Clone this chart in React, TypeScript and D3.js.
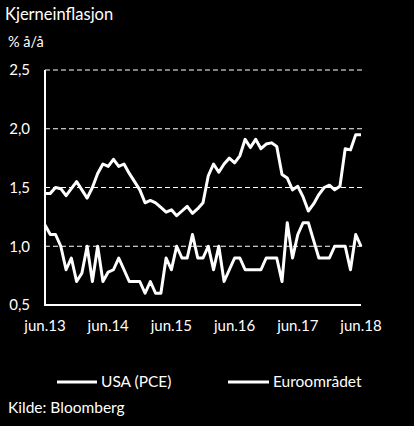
import React from "react";
import * as d3 from "d3";

const tickLabels = ["jun.13", "jun.14", "jun.15", "jun.16", "jun.17", "jun.18"];
const tickIndex = [0, 12, 24, 36, 48, 60];
const yTicks = [0.5, 1.0, 1.5, 2.0, 2.5];

const usaPCE = [
  1.45, 1.45, 1.5, 1.49, 1.43, 1.49, 1.55, 1.48, 1.41, 1.5,
  1.62, 1.7, 1.68, 1.74, 1.68, 1.7, 1.62, 1.55, 1.48, 1.37,
  1.39, 1.37, 1.33, 1.29, 1.31, 1.26, 1.3, 1.34, 1.28, 1.32,
  1.37, 1.6, 1.7, 1.63, 1.7, 1.75, 1.71, 1.77, 1.91, 1.84,
  1.91, 1.83, 1.87, 1.88, 1.85, 1.61, 1.58, 1.48, 1.51, 1.42,
  1.3, 1.36, 1.44, 1.5, 1.52, 1.48, 1.51, 1.83, 1.82, 1.95, 1.95,
];

const euro = [
  1.18, 1.1, 1.1, 1.0, 0.8, 0.9, 0.7, 0.77, 1.0, 0.7,
  1.0, 0.7, 0.78, 0.8, 0.9, 0.8, 0.7, 0.7, 0.7, 0.6,
  0.7, 0.6, 0.6, 0.9, 0.8, 1.0, 0.9, 0.9, 1.1, 0.9,
  0.9, 1.0, 0.8, 1.0, 0.7, 0.8, 0.9, 0.9, 0.8, 0.8,
  0.8, 0.8, 0.9, 0.9, 0.9, 0.7, 1.2, 0.9, 1.1, 1.2,
  1.2, 1.05, 0.9, 0.9, 0.9, 1.0, 1.0, 1.0, 0.8, 1.1, 1.0,
];

const seriesNames = ["USA (PCE)", "Euroområdet"];

const W = 414;
const H = 426;
const FONT = "Lato, 'Liberation Sans', sans-serif";

export default function App() {
  React.useEffect(() => {
    document.body.style.margin = "0";
    document.body.style.background = "#000";
  }, []);

  const x = d3.scaleLinear().domain([0, 60]).range([45, 361]);
  const y = d3.scaleLinear().domain([0.5, 2.5]).range([305, 70]);
  const line = d3
    .line<number>()
    .x((_, i) => x(i))
    .y((d) => y(d));

  return (
    <svg
      width={W}
      height={H}
      style={{ display: "block", position: "absolute", left: 0, top: 0, background: "#000" }}
      fontFamily={FONT}
    >
      <rect x={0} y={0} width={W} height={H} fill="#000" />
      <text x={5} y={20} fill="#fff" fontSize={16.5}>Kjerneinflasjon</text>
      <text x={8} y={47} fill="#fff" fontSize={14.5}>% å/å</text>

      {yTicks.filter((t) => t > 0.5).map((t) => (
        <line
          key={t}
          x1={x(0)}
          x2={362}
          y1={y(t)}
          y2={y(t)}
          stroke="#fff"
          strokeWidth={1}
          strokeDasharray="5,3"
        />
      ))}
      {yTicks.map((t) => (
        <text
          key={"l" + t}
          x={30}
          y={y(t)}
          dy="0.35em"
          textAnchor="end"
          fill="#fff"
          fontSize={15}
        >
          {t.toFixed(1).replace(".", ",")}
        </text>
      ))}
      <line x1={x(0)} x2={x(0)} y1={y(2.5)} y2={y(0.5) + 1} stroke="#fff" strokeWidth={2} />
      <line x1={x(0)} x2={x(60)} y1={y(0.5)} y2={y(0.5)} stroke="#fff" strokeWidth={2} />

      {tickIndex.map((ti, k) => (
        <text
          key={ti}
          x={x(ti)}
          y={331}
          textAnchor="middle"
          fill="#fff"
          fontSize={15}
        >
          {tickLabels[k]}
        </text>
      ))}

      <path d={line(usaPCE) || ""} fill="none" stroke="#fff" strokeWidth={3} strokeLinejoin="round" />
      <path d={line(euro) || ""} fill="none" stroke="#fff" strokeWidth={3} strokeLinejoin="round" />

      <line x1={57} x2={97} y1={382} y2={382} stroke="#fff" strokeWidth={3} />
      <text x={101} y={387} fill="#fff" fontSize={15.5}>{seriesNames[0]}</text>
      <line x1={228} x2={269} y1={382} y2={382} stroke="#fff" strokeWidth={3} />
      <text x={273} y={387} fill="#fff" fontSize={15.5}>{seriesNames[1]}</text>

      <text x={8} y={413} fill="#fff" fontSize={15.5}>Kilde: Bloomberg</text>
    </svg>
  );
}
